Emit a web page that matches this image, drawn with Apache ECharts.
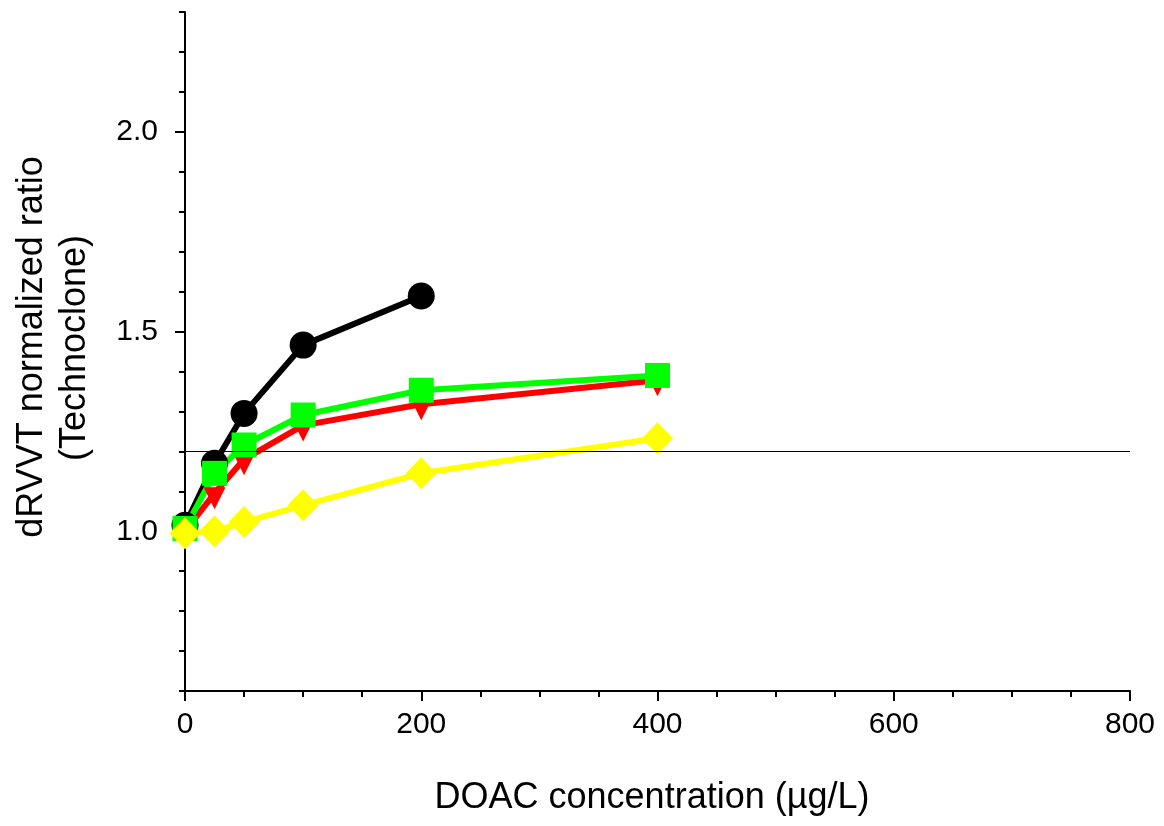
<!DOCTYPE html>
<html>
<head>
<meta charset="utf-8">
<script src="https://cdn.jsdelivr.net/npm/echarts@6/dist/echarts.min.js"></script>
<style>html,body{margin:0;padding:0;background:#fff}#c{width:1164px;height:826px}</style>
</head>
<body>
<div id="c"></div>
<script>
const xLabelValues = [0, 200, 400, 600, 800];
const yLabelValues = [1.0, 1.5, 2.0];
const yTickValues = [0.6, 0.7, 0.8, 0.9, 1.0, 1.1, 1.2, 1.3, 1.4, 1.5, 1.6, 1.7, 1.8, 1.9, 2.0, 2.1, 2.2, 2.3];
const refLine = 1.2;

const blackX = [0, 25, 50, 100, 200];
const blackY = [1.015, 1.17, 1.295, 1.466, 1.589];
const redX = [0, 25, 50, 100, 200, 400];
const redY = [1.0, 1.095, 1.18, 1.265, 1.318, 1.378];
const greenX = [0, 25, 50, 100, 200, 400];
const greenY = [1.007, 1.145, 1.216, 1.291, 1.353, 1.39];
const yellowX = [0, 25, 50, 100, 200, 400];
const yellowY = [0.995, 1.0, 1.023, 1.065, 1.145, 1.233];

const FONT = '"Liberation Sans", Arial, sans-serif';
const pair = (xs, ys) => xs.map((x, i) => [x, ys[i]]);

const chart = echarts.init(document.getElementById('c'), null, {renderer: 'canvas'});
const mk = (name, xs, ys, color, symbol, size, extra) => Object.assign({
  name, type: 'line', data: pair(xs, ys), symbol, symbolSize: size,
  lineStyle: {color, width: 6}, itemStyle: {color, borderWidth: 0},
  showSymbol: true, animation: false, z: 3
}, extra || {});

chart.setOption({
  animation: false,
  grid: {left: 185, right: 34, top: 12, bottom: 135, containLabel: false},
  xAxis: {
    type: 'value', min: 0, max: 800, interval: 200,
    axisLine: {show: true, onZero: false, lineStyle: {color: '#000', width: 2}},
    axisTick: {show: true, length: 10, lineStyle: {color: '#000', width: 2}},
    minorTick: {show: true, splitNumber: 4, length: 6, lineStyle: {color: '#000', width: 2}},
    splitLine: {show: false},
    axisLabel: {color: '#000', fontSize: 30, fontFamily: FONT, margin: 19,
      customValues: xLabelValues}
  },
  yAxis: [{
    type: 'value', min: 0.6, max: 2.3,
    axisLine: {show: true, onZero: false, lineStyle: {color: '#000', width: 2}},
    axisTick: {show: true, length: 6, lineStyle: {color: '#000', width: 2}, customValues: yTickValues},
    splitLine: {show: false},
    axisLabel: {color: '#000', fontSize: 30, fontFamily: FONT, margin: 27,
      customValues: yLabelValues, formatter: v => v.toFixed(1)}
  }, {
    type: 'value', min: 0.6, max: 2.3, position: 'left',
    axisLine: {show: false},
    axisTick: {show: true, length: 10, lineStyle: {color: '#000', width: 2}, customValues: yLabelValues},
    axisLabel: {show: false},
    splitLine: {show: false}
  }],
  series: [
    mk('black', blackX, blackY, '#000000', 'circle', 27, {
      markLine: {
        silent: true, symbol: 'none', label: {show: false},
        lineStyle: {color: '#000', width: 1.2, type: 'solid'},
        data: [{yAxis: refLine}]
      }
    }),
    mk('red', redX, redY, '#ff0000', 'triangle', [22, 22], {symbolRotate: 180, symbolOffset: [0, 5]}),
    mk('green', greenX, greenY, '#00ff00', 'rect', 25),
    mk('yellow', yellowX, yellowY, '#ffff00', 'diamond', [31, 32])
  ],
  graphic: [
    {type: 'text', x: 652, y: 798, style: {text: 'DOAC concentration (µg/L)', font: '36px ' + FONT, fill: '#000', align: 'center', verticalAlign: 'middle'}},
    {type: 'text', x: 32, y: 347, rotation: Math.PI / 2, style: {text: 'dRVVT normalized ratio', font: '36px ' + FONT, fill: '#000', align: 'center', verticalAlign: 'middle'}},
    {type: 'text', x: 75, y: 348, rotation: Math.PI / 2, style: {text: '(Technoclone)', font: '36px ' + FONT, fill: '#000', align: 'center', verticalAlign: 'middle'}}
  ]
});
</script>
</body>
</html>
